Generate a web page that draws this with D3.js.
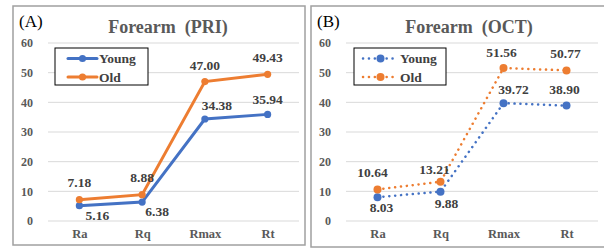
<!DOCTYPE html>
<html>
<head>
<meta charset="utf-8">
<script src="https://cdn.jsdelivr.net/npm/d3@7"></script>
<style>
  body { margin: 0; background: #fff; }
  text { font-family: "Liberation Serif", "Times New Roman", serif; }
</style>
</head>
<body>
<script>
// data
const categories = ['Ra', 'Rq', 'Rmax', 'Rt'];
const priYoung = [5.16, 6.38, 34.38, 35.94];
const priOld = [7.18, 8.88, 47.00, 49.43];
const octYoung = [8.03, 9.88, 39.72, 38.90];
const octOld = [10.64, 13.21, 51.56, 50.77];
const yTicks = [0, 10, 20, 30, 40, 50, 60];

const width = 604, height = 249;
const blue = '#4472C4', orange = '#ED7D31';

const svg = d3.select('body').append('svg')
    .attr('width', width)
    .attr('height', height);

// label placement per point [dx, dy] relative to the marker
const placeA = {
    young: [[18, 10], [15, 9], [12, -14], [0, -15]],
    old: [[0, -17], [0, -17], [0, -16], [0, -17]]
};
const placeB = {
    young: [[4, 10], [6, 12], [10, -14], [-2, -16]],
    old: [[-5, -17], [-6, -13], [-2, -16], [-1, -17]]
};

function panel(cfg) {
    const g = svg.append('g');

    // frame
    g.append('rect')
        .attr('x', cfg.box[0]).attr('y', cfg.box[1])
        .attr('width', cfg.box[2]).attr('height', cfg.box[3])
        .attr('fill', 'white')
        .attr('stroke', '#A0A0A0')
        .attr('stroke-width', 1.5);

    const x = d3.scalePoint()
        .domain(categories)
        .range([cfg.left, cfg.right])
        .padding(0.5);
    const y = d3.scaleLinear()
        .domain([0, 60])
        .range([221, 43]);

    // grid
    g.selectAll('.grid')
        .data(yTicks)
        .enter().append('line')
        .attr('x1', cfg.left).attr('x2', cfg.right)
        .attr('y1', d => y(d)).attr('y2', d => y(d))
        .attr('stroke', '#D9D9D9')
        .attr('stroke-width', 1);

    const yAxis = d3.axisLeft(y).tickValues(yTicks).tickSize(0).tickPadding(15);
    const ya = g.append('g')
        .attr('transform', `translate(${cfg.left},0)`)
        .call(yAxis);
    ya.select('.domain').remove();
    ya.selectAll('text')
        .attr('font-size', 12)
        .attr('font-weight', 'bold')
        .attr('fill', '#595959');

    const xAxis = d3.axisBottom(x).tickSize(0).tickPadding(8);
    const xa = g.append('g')
        .attr('transform', 'translate(0,221)')
        .call(xAxis);
    xa.select('.domain').remove();
    xa.selectAll('text')
        .attr('font-size', 12.5)
        .attr('font-weight', 'bold')
        .attr('fill', '#595959');

    // title + panel letter
    g.append('text')
        .attr('x', cfg.titleX).attr('y', 33)
        .attr('text-anchor', 'middle')
        .attr('font-size', 18)
        .attr('font-weight', 'bold')
        .attr('fill', '#595959')
        .attr('xml:space', 'preserve')
        .text(cfg.title);
    g.append('text')
        .attr('x', cfg.box[0] + 6).attr('y', 27)
        .attr('font-size', 17)
        .attr('fill', '#000')
        .text(cfg.letter);

    const line = d3.line()
        .x((d, i) => x(categories[i]))
        .y(d => y(d));

    const series = [
        { name: 'Young', vals: cfg.young, color: blue, place: cfg.place.young },
        { name: 'Old', vals: cfg.old, color: orange, place: cfg.place.old }
    ];

    series.forEach(s => {
        g.append('path')
            .datum(s.vals)
            .attr('d', line)
            .attr('fill', 'none')
            .attr('stroke', s.color)
            .attr('stroke-width', cfg.dotted ? 2.5 : 3)
            .attr('stroke-linecap', 'round')
            .attr('stroke-dasharray', cfg.dotted ? '0.1 5.8' : null);
        g.selectAll(null)
            .data(s.vals)
            .enter().append('circle')
            .attr('cx', (d, i) => x(categories[i]))
            .attr('cy', d => y(d))
            .attr('r', cfg.dotted ? 4 : 3.6)
            .attr('fill', s.color);
        g.selectAll(null)
            .data(s.vals)
            .enter().append('text')
            .attr('x', (d, i) => x(categories[i]) + s.place[i][0])
            .attr('y', (d, i) => y(d) + s.place[i][1])
            .attr('dy', '0.35em')
            .attr('text-anchor', 'middle')
            .attr('font-size', 13.5)
            .attr('font-weight', 'bold')
            .attr('fill', '#404040')
            .text(d => d.toFixed(2));
    });

    // legend
    const lg = g.append('g');
    lg.append('rect')
        .attr('x', cfg.legend[0]).attr('y', 48)
        .attr('width', cfg.legend[1]).attr('height', 37)
        .attr('fill', 'white')
        .attr('stroke', '#000')
        .attr('stroke-width', 1);
    series.forEach((s, i) => {
        const ly = 58.5 + i * 18.5;
        const lx = cfg.legend[0] + cfg.legend[2];
        const len = cfg.legend[3];
        lg.append('line')
            .attr('x1', lx).attr('x2', lx + len)
            .attr('y1', ly).attr('y2', ly)
            .attr('stroke', s.color)
            .attr('stroke-width', cfg.dotted ? 2.5 : 3)
            .attr('stroke-linecap', 'round')
            .attr('stroke-dasharray', cfg.dotted ? '0.1 5.8' : null);
        lg.append('circle')
            .attr('cx', lx + len / 2).attr('cy', ly)
            .attr('r', cfg.dotted ? 4 : 3.6)
            .attr('fill', s.color);
        lg.append('text')
            .attr('x', lx + len + 2).attr('y', ly)
            .attr('dy', '0.35em')
            .attr('font-size', 13.5)
            .attr('font-weight', 'bold')
            .attr('fill', '#404040')
            .text(s.name);
    });
}

panel({
    box: [13, 6, 292, 239],
    left: 48, right: 299,
    titleX: 168, title: 'Forearm  (PRI)', letter: '(A)',
    young: priYoung, old: priOld,
    dotted: false, place: placeA,
    legend: [55, 93, 13, 29]
});

panel({
    box: [311, 6, 300, 241],
    left: 346, right: 598,
    titleX: 469, title: 'Forearm  (OCT)', letter: '(B)',
    young: octYoung, old: octOld,
    dotted: true, place: placeB,
    legend: [354, 92, 9, 35]
});
</script>
</body>
</html>
